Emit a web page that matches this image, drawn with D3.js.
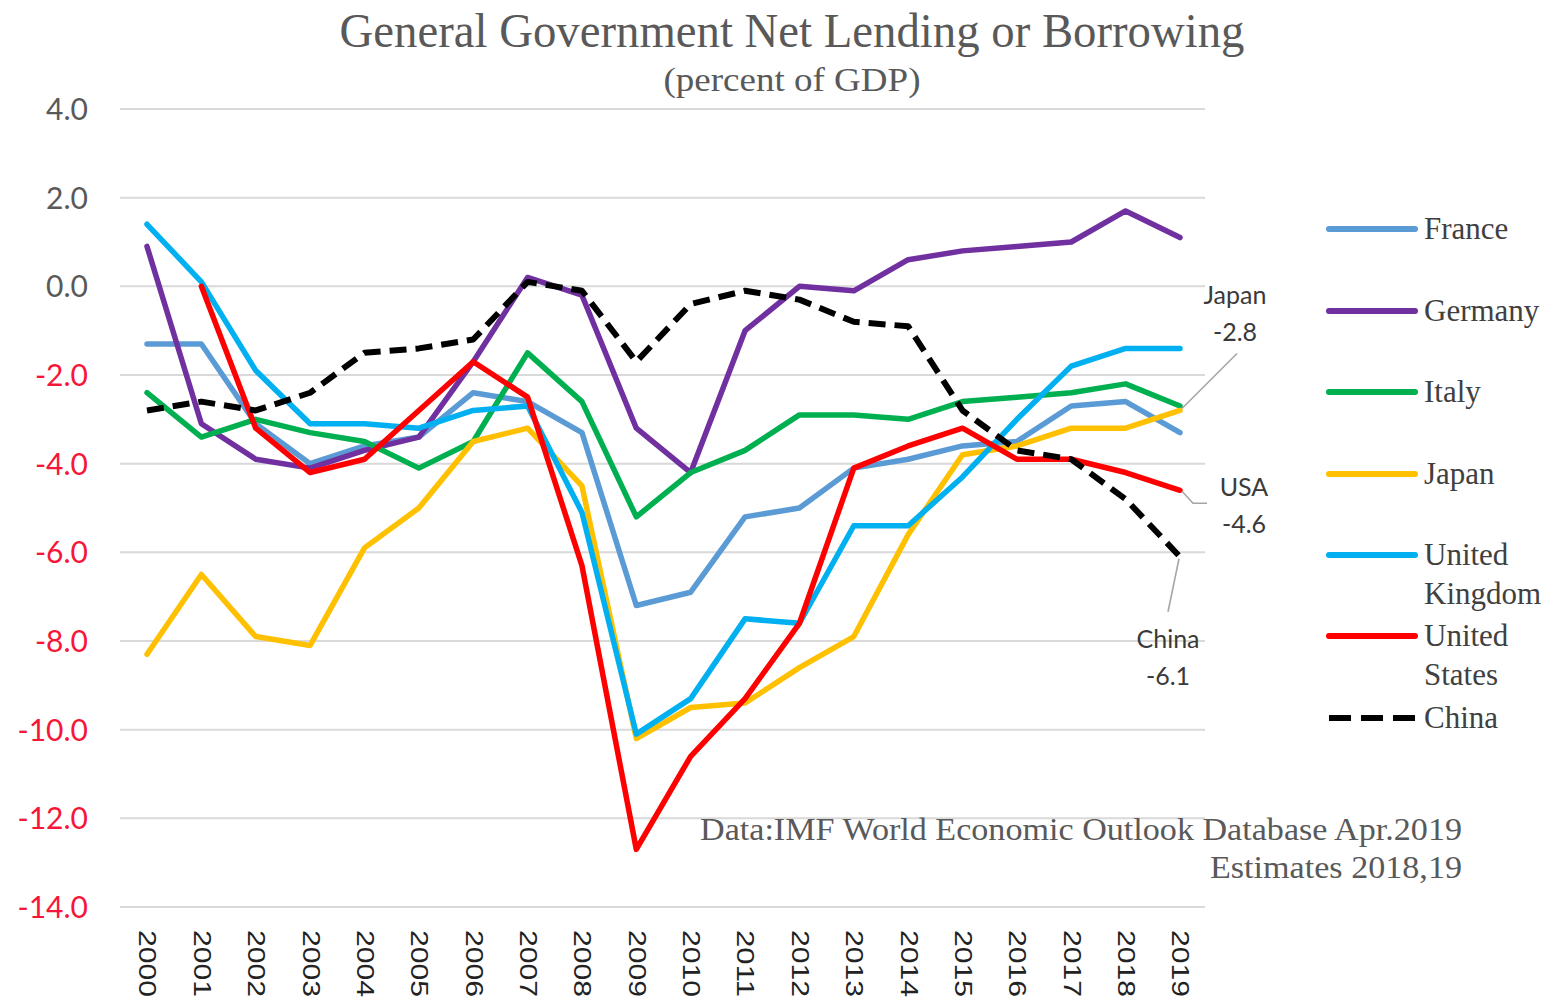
<!DOCTYPE html>
<html>
<head>
<meta charset="utf-8">
<script src="https://cdn.jsdelivr.net/npm/d3@7"></script>
<style>
  html, body { margin: 0; padding: 0; background: #fff; }
  svg { display: block; }
</style>
</head>
<body>
<svg id="chart" width="1557" height="1000"></svg>
<script>
// General government net lending (+) / borrowing (-), percent of GDP
const years = ["2000","2001","2002","2003","2004","2005","2006","2007","2008","2009",
               "2010","2011","2012","2013","2014","2015","2016","2017","2018","2019"];

const france  = [-1.3,-1.3,-3.1,-4.0,-3.6,-3.4,-2.4,-2.6,-3.3,-7.2,-6.9,-5.2,-5.0,-4.1,-3.9,-3.6,-3.5,-2.7,-2.6,-3.3];
const germany = [0.9,-3.1,-3.9,-4.1,-3.7,-3.4,-1.7,0.2,-0.2,-3.2,-4.2,-1.0,0.0,-0.1,0.6,0.8,0.9,1.0,1.7,1.1];
const italy   = [-2.4,-3.4,-3.0,-3.3,-3.5,-4.1,-3.5,-1.5,-2.6,-5.2,-4.2,-3.7,-2.9,-2.9,-3.0,-2.6,-2.5,-2.4,-2.2,-2.7];
const japan   = [-8.3,-6.5,-7.9,-8.1,-5.9,-5.0,-3.5,-3.2,-4.5,-10.2,-9.5,-9.4,-8.6,-7.9,-5.6,-3.8,-3.6,-3.2,-3.2,-2.8];
const uk      = [1.4,0.1,-1.9,-3.1,-3.1,-3.2,-2.8,-2.7,-5.1,-10.1,-9.3,-7.5,-7.6,-5.4,-5.4,-4.3,-3.0,-1.8,-1.4,-1.4];
const usa     = [null,0.0,-3.2,-4.2,-3.9,-2.8,-1.7,-2.5,-6.3,-12.7,-10.6,-9.3,-7.6,-4.1,-3.6,-3.2,-3.9,-3.9,-4.2,-4.6];
const china   = [-2.8,-2.6,-2.8,-2.4,-1.5,-1.4,-1.2,0.1,-0.1,-1.7,-0.4,-0.1,-0.3,-0.8,-0.9,-2.8,-3.7,-3.9,-4.8,-6.1];

const yTicks = [4, 2, 0, -2, -4, -6, -8, -10, -12, -14];

const seriesNames   = ["France", "Germany", "Italy", "Japan", "United Kingdom", "United States", "China"];
const legendLines   = [["France"], ["Germany"], ["Italy"], ["Japan"], ["United", "Kingdom"], ["United", "States"], ["China"]];
const seriesColors  = ["#5B9BD5", "#7030A0", "#00B050", "#FFC000", "#00B0F0", "#FF0000", "#000000"];
const seriesValues  = [france, germany, italy, japan, uk, usa, china];

// end-of-line callouts: series index and short name
const calloutSeries = [3, 5, 6];
const calloutNames  = ["Japan", "USA", "China"];

const titleText    = "General Government Net Lending or Borrowing";
const subtitleText = "(percent of GDP)";
const noteLines    = ["Data:IMF World Economic Outlook Database Apr.2019", "Estimates 2018,19"];

// ---------------------------------------------------------------------------
const svg = d3.select("#chart");

const x = d3.scalePoint().domain(years).range([147, 1180]);
const y = d3.scaleLinear().domain([-14, 4]).range([907, 109]);

const serif = "'Liberation Serif', 'Times New Roman', serif";
const sans  = "Lato, 'Open Sans', 'Noto Sans', sans-serif";

// horizontal gridlines
svg.append("g").selectAll("line")
  .data(yTicks).join("line")
  .attr("x1", 120).attr("x2", 1205)
  .attr("y1", d => y(d)).attr("y2", d => y(d))
  .attr("stroke", "#d9d9d9").attr("stroke-width", 2);

// y axis labels (negatives in red)
const yAxis = svg.append("g")
  .attr("transform", "translate(88,0)")
  .call(d3.axisLeft(y).tickValues(yTicks).tickSize(0).tickPadding(0)
        .tickFormat(d => d.toFixed(1)));
yAxis.select(".domain").remove();
yAxis.selectAll("text")
  .attr("x", 0).attr("dy", "0.35em")
  .style("font-family", sans).style("font-size", "30px")
  .attr("fill", d => d < 0 ? "#f7163a" : "#595959");

// x axis labels, rotated to read downward
const xAxis = svg.append("g")
  .attr("transform", "translate(0,930)")
  .call(d3.axisBottom(x).tickSize(0).tickPadding(0));
xAxis.select(".domain").remove();
xAxis.selectAll("text")
  .attr("transform", "rotate(90)")
  .attr("x", 0).attr("y", 0).attr("dy", "0.35em")
  .attr("textLength", 67).attr("lengthAdjust", "spacingAndGlyphs")
  .style("text-anchor", "start")
  .style("font-family", "'Liberation Sans', Arial, sans-serif")
  .style("font-size", "23px")
  .attr("fill", "#222");

// note under the plot
svg.append("g").selectAll("text")
  .data(noteLines).join("text")
  .attr("x", 1462).attr("y", (d, i) => 840 + i * 38)
  .attr("text-anchor", "end")
  .attr("textLength", (d, i) => i === 0 ? 762 : 252)
  .attr("lengthAdjust", "spacingAndGlyphs")
  .style("font-family", serif).style("font-size", "32px")
  .attr("fill", "#595959")
  .text(d => d);

// series lines
const line = d3.line()
  .defined(d => d.v !== null)
  .x(d => x(d.year))
  .y(d => y(d.v));

const series = seriesNames.map((name, i) => ({
  name,
  color: seriesColors[i],
  dashed: name === "China",
  points: years.map((yr, j) => ({ year: yr, v: seriesValues[i][j] }))
}));

svg.append("g").selectAll("path")
  .data(series).join("path")
  .attr("d", d => line(d.points))
  .attr("fill", "none")
  .attr("stroke", d => d.color)
  .attr("stroke-width", d => d.dashed ? 6 : 5.5)
  .attr("stroke-linejoin", "round")
  .attr("stroke-linecap", d => d.dashed ? "butt" : "round")
  .attr("stroke-dasharray", d => d.dashed ? "17,9" : null);

// callouts with leader lines for the last year
const lastYear = years[years.length - 1];
const callouts = calloutSeries.map((si, k) => {
  const v = seriesValues[si][years.length - 1];
  return { name: calloutNames[k], v, px: x(lastYear), py: y(v) };
});
// leader line geometry and label placement, relative to the end point
const leaderPaths = {
  Japan: p => [[p.px + 2, p.py - 2], [p.px + 57, p.py - 57]],
  USA:   p => [[p.px + 2, p.py + 1], [p.px + 13, p.py + 13], [p.px + 27, p.py + 13]],
  China: p => [[p.px - 1, p.py + 2], [p.px - 12, p.py + 55]]
};
const labelPos = {
  Japan: p => [p.px + 55, p.py - 115],
  USA:   p => [p.px + 64, p.py - 3],
  China: p => [p.px - 12, p.py + 82]
};
const gc = svg.append("g");
callouts.forEach(c => {
  gc.append("path")
    .attr("d", d3.line()(leaderPaths[c.name](c)))
    .attr("fill", "none").attr("stroke", "#a6a6a6").attr("stroke-width", 1.6);
  const [lx, ly] = labelPos[c.name](c);
  [c.name, c.v.toFixed(1)].forEach((t, i) => {
    gc.append("text")
      .attr("x", lx).attr("y", ly + i * 37)
      .attr("dy", "0.35em")
      .attr("text-anchor", "middle")
      .style("font-family", sans).style("font-size", "25px")
      .attr("fill", "#3a3a3a")
      .text(t);
  });
});

// legend
const legend = svg.append("g");
const legendRowY = [229, 311, 392, 474, 555, 636, 718];
series.forEach((s, i) => {
  const ry = legendRowY[i];
  legend.append("line")
    .attr("x1", 1329).attr("x2", 1415)
    .attr("y1", ry).attr("y2", ry)
    .attr("stroke", s.color).attr("stroke-width", 6)
    .attr("stroke-linecap", s.dashed ? "butt" : "round")
    .attr("stroke-dasharray", s.dashed ? "22,10" : null);
  legendLines[i].forEach((t, k) => {
    legend.append("text")
      .attr("x", 1424).attr("y", ry + k * 39)
      .attr("dy", "0.33em")
      .style("font-family", serif).style("font-size", "31px")
      .attr("fill", "#404040")
      .text(t);
  });
});

// title
svg.append("text")
  .attr("x", 792).attr("y", 47)
  .attr("text-anchor", "middle")
  .attr("textLength", 905).attr("lengthAdjust", "spacingAndGlyphs")
  .style("font-family", serif).style("font-size", "48px")
  .attr("fill", "#595959")
  .text(titleText);
svg.append("text")
  .attr("x", 792).attr("y", 91)
  .attr("text-anchor", "middle")
  .attr("textLength", 257).attr("lengthAdjust", "spacingAndGlyphs")
  .style("font-family", serif).style("font-size", "34px")
  .attr("fill", "#595959")
  .text(subtitleText);
</script>
</body>
</html>
